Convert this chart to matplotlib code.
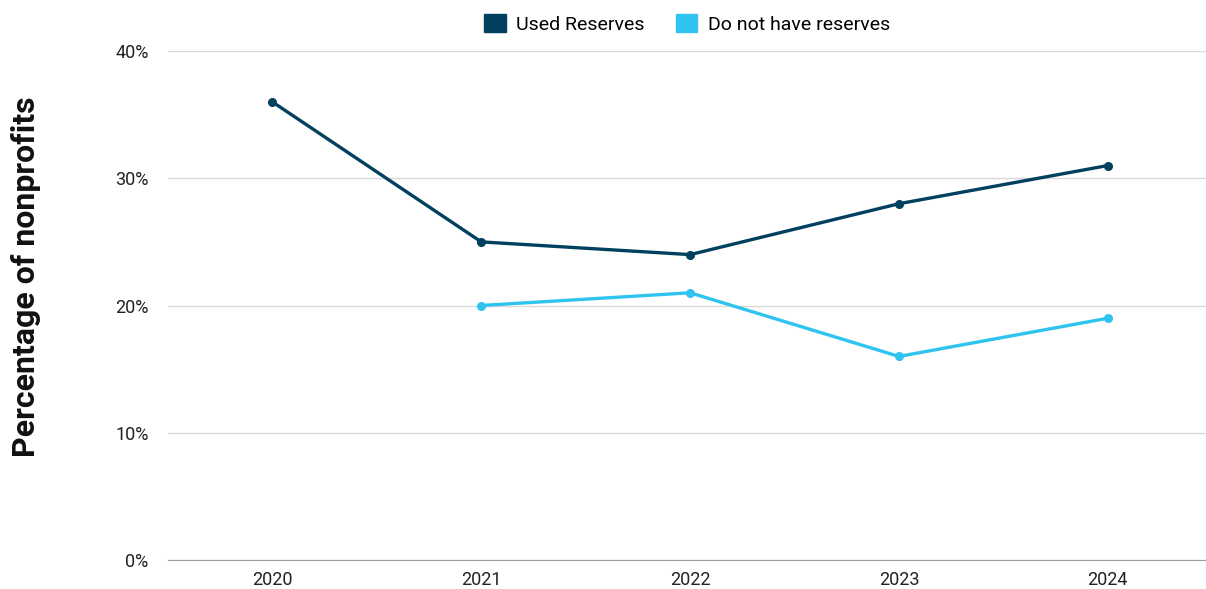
import numpy as np
from matplotlib import pyplot as plt
from matplotlib.patches import Patch

plt.rcParams['font.family'] = ['Roboto', 'DejaVu Sans']

years = ['2020', '2021', '2022', '2023', '2024']
used_reserves = [36, 25, 24, 28, 31]
no_reserves = [np.nan, 20, 21, 16, 19]
yticks = [0, 10, 20, 30, 40]

dark = '#02405f'
light = '#2ec4ef'

fig = plt.figure(figsize=(12.06, 5.89), dpi=100)
ax = fig.add_axes([0.1393, 0.0492, 0.8607, 0.8642])

x = np.arange(len(years))
ax.plot(x, used_reserves, color=dark, lw=2.4, marker='o', ms=5.5, zorder=3)
ax.plot(x, no_reserves, color=light, lw=2.4, marker='o', ms=5.5, zorder=3)

ax.set_xlim(-0.5, len(years) - 0.53)
ax.set_ylim(0, 40)
ax.set_xticks(x)
ax.set_xticklabels(years)
ax.set_yticks(yticks)
ax.set_yticklabels([f'{v}%' for v in yticks])
ax.grid(axis='y', color='#d9d9d9', lw=1)
ax.set_axisbelow(True)
for s in ['top', 'right', 'left']:
    ax.spines[s].set_visible(False)
ax.spines['bottom'].set_color('#9e9e9e')
ax.tick_params(axis='x', length=0, pad=8, labelsize=13, labelcolor='#222222')
ax.tick_params(axis='y', length=0, pad=14, labelsize=13, labelcolor='#222222')

ax.set_ylabel('Percentage of nonprofits', fontsize=23, fontweight='bold',
              color='#111111', va='center')
ax.yaxis.set_label_coords(-0.137, 0.556)

handles = [Patch(color=dark), Patch(color=light)]
fig.legend(handles, ['Used Reserves', 'Do not have reserves'],
           loc='center', bbox_to_anchor=(0.570, 0.960), ncol=2, frameon=False,
           fontsize=14, handlelength=1.1, handleheight=1.1, handletextpad=0.55,
           columnspacing=1.6)

fig.savefig('out.png', dpi=100)
